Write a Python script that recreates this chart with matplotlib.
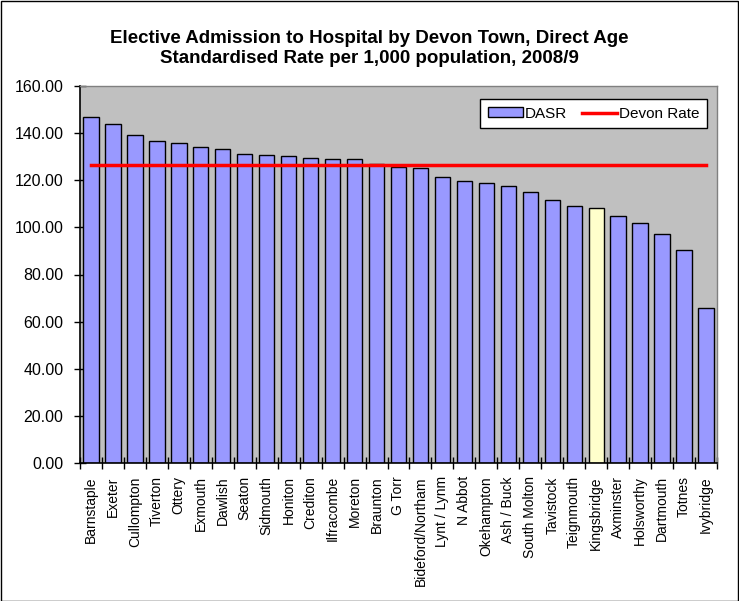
import matplotlib
matplotlib.use("Agg")
import matplotlib.pyplot as plt
import numpy as np
from matplotlib.patches import Rectangle

plt.rcParams['font.family'] = ['Liberation Sans', 'DejaVu Sans']

towns = ["Barnstaple", "Exeter", "Cullompton", "Tiverton", "Ottery", "Exmouth",
         "Dawlish", "Seaton", "Sidmouth", "Honiton", "Crediton", "Ilfracombe",
         "Moreton", "Braunton", "G Torr", "Bideford/Northam", "Lynt / Lynm",
         "N Abbot", "Okehampton", "Ash / Buck", "South Molton", "Tavistock",
         "Teignmouth", "Kingsbridge", "Axminster", "Holsworthy", "Dartmouth",
         "Totnes", "Ivybridge"]
dasr = [147.0, 143.8, 139.4, 136.7, 135.7, 134.0, 133.4, 131.3, 130.6, 130.2,
        129.6, 129.0, 129.0, 127.0, 125.6, 125.2, 121.4, 119.8, 118.7, 117.6,
        114.9, 111.8, 109.0, 108.4, 104.7, 101.9, 97.1, 90.4, 65.9]
devon_rate = 126.5
highlight = "Kingsbridge"
yticks = [0, 20, 40, 60, 80, 100, 120, 140, 160]

W, H = 739, 601
fig = plt.figure(figsize=(W / 100, H / 100), dpi=100)
fig.patch.set_facecolor('white')
fig.add_artist(Rectangle((0.5 / W, 0.5 / H), 1 - 1.5 / W, 1 - 1.5 / H,
                         transform=fig.transFigure, fill=False,
                         edgecolor='black', linewidth=1.0))

left, right, top, bottom = 80, 717, 86, 463
ax = fig.add_axes([left / W, 1 - bottom / H, (right - left) / W, (bottom - top) / H])
ax.set_facecolor('#C0C0C0')

x = np.arange(len(towns))
colors = ['#FFFFCC' if t == highlight else '#9999FF' for t in towns]
bars = ax.bar(x, dasr, width=0.7, color=colors, edgecolor='black', linewidth=1.0,
              label='DASR', zorder=2)
line, = ax.plot(x, [devon_rate] * len(x), color='#FF0000', linewidth=2.5,
                label='Devon Rate', zorder=3)

ax.set_xlim(-0.5, len(towns) - 0.5)
ax.set_ylim(0, 160)
ax.set_yticks(yticks)
ax.set_yticklabels([f"{v:.2f}" for v in yticks], fontsize=11.5)
ax.set_xticks(x)
ax.set_xticklabels(towns, rotation=90, fontsize=10)
ax.tick_params(axis='x', length=0, pad=9.5)
ax.set_xticks(np.arange(-0.5, len(towns)), minor=True)
ax.tick_params(axis='x', which='minor', direction='inout', length=8, width=1)
ax.tick_params(axis='y', direction='inout', length=9, width=1, pad=7.5)

for s in ['top', 'right']:
    ax.spines[s].set_color('#808080')
    ax.spines[s].set_linewidth(1.0)
for s in ['left', 'bottom']:
    ax.spines[s].set_color('black')
    ax.spines[s].set_linewidth(1.2)

leg = ax.legend([bars, line], ['DASR', 'Devon Rate'],
                loc='upper right', bbox_to_anchor=((707 - left) / (right - left),
                                                   (bottom - 99) / (bottom - top)),
                fontsize=11, frameon=True, fancybox=False, edgecolor='black',
                ncol=2, handlelength=2.3, handleheight=0.6, handletextpad=0.1,
                columnspacing=1.0, borderpad=0.5, borderaxespad=0)
leg.get_frame().set_linewidth(1.0)
leg.get_frame().set_facecolor('white')
leg.get_frame().set_alpha(1)

fig.text(0.5, 1 - 42.7 / H, "Elective Admission to Hospital by Devon Town, Direct Age",
         ha='center', va='baseline', fontsize=13.5, fontweight='bold')
fig.text(0.5, 1 - 63.3 / H, "Standardised Rate per 1,000 population, 2008/9",
         ha='center', va='baseline', fontsize=13.5, fontweight='bold')

fig.savefig('out.png', dpi=100)
